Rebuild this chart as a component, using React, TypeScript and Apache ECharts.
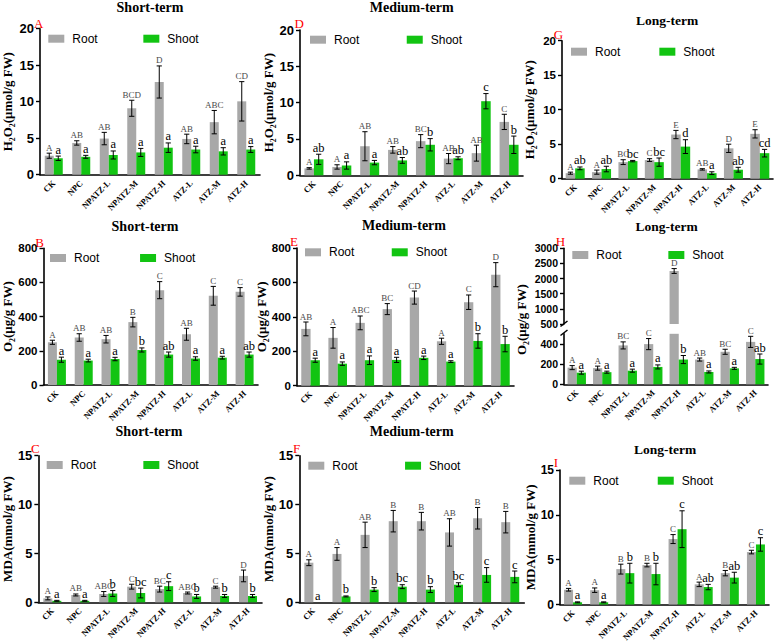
import React, { useEffect, useRef } from 'react';
import * as echarts from 'echarts';

const categories = ['CK', 'NPC', 'NPATZ-L', 'NPATZ-M', 'NPATZ-H', 'ATZ-L', 'ATZ-M', 'ATZ-H'];

// A: H2O2 short-term
const aRoot = [2.6, 4.35, 4.95, 9.1, 12.7, 4.9, 7.2, 10.05];
const aRootErr = [0.35, 0.3, 0.85, 1.1, 2.2, 0.65, 1.6, 2.7];
const aRootSig = ['A', 'AB', 'AB', 'BCD', 'D', 'AB', 'ABC', 'CD'];
const aShoot = [2.25, 2.45, 2.7, 3.05, 3.7, 3.45, 3.2, 3.45];
const aShootErr = [0.3, 0.2, 0.55, 0.55, 0.65, 0.45, 0.5, 0.4];
const aShootSig = ['a', 'a', 'a', 'a', 'a', 'a', 'a', 'a'];

// D: H2O2 medium-term
const dRoot = [0.95, 1.15, 4.0, 3.5, 4.7, 2.3, 3.05, 7.35];
const dRootErr = [0.1, 0.3, 2.0, 0.45, 0.9, 0.7, 1.1, 1.05];
const dRootSig = ['A', 'A', 'AB', 'AB', 'BC', 'AB', 'AB', 'C'];
const dShoot = [2.2, 1.35, 1.75, 2.05, 4.2, 2.35, 10.2, 4.2];
const dShootErr = [0.7, 0.5, 0.3, 0.4, 0.85, 0.2, 1.05, 1.2];
const dShootSig = ['ab', 'a', 'a', 'ab', 'b', 'ab', 'c', 'b'];

// G: H2O2 long-term
const gRoot = [0.8, 0.95, 2.4, 2.7, 6.4, 1.35, 4.4, 6.5];
const gRootErr = [0.15, 0.3, 0.35, 0.2, 0.6, 0.1, 0.6, 0.6];
const gRootSig = ['A', 'A', 'BC', 'C', 'E', 'AB', 'D', 'E'];
const gShoot = [1.5, 1.4, 2.55, 2.4, 4.65, 0.8, 1.3, 3.7];
const gShootErr = [0.2, 0.4, 0.1, 0.6, 1.0, 0.2, 0.35, 0.55];
const gShootSig = ['ab', 'ab', 'bc', 'bc', 'd', 'a', 'ab', 'cd'];

// B: O2 short-term
const bRoot = [250, 278, 268, 368, 555, 297, 522, 545];
const bRootErr = [12, 22, 22, 28, 50, 35, 55, 25];
const bRootSig = ['A', 'AB', 'AB', 'B', 'C', 'AB', 'C', 'C'];
const bShoot = [148, 143, 152, 205, 178, 155, 160, 178];
const bShootErr = [15, 8, 10, 12, 15, 10, 8, 15];
const bShootSig = ['a', 'a', 'a', 'b', 'ab', 'a', 'a', 'ab'];

// E: O2 medium-term
const eRoot = [330, 278, 365, 445, 512, 258, 485, 645];
const eRootErr = [40, 60, 40, 32, 38, 18, 42, 70];
const eRootSig = ['AB', 'A', 'ABC', 'BC', 'CD', 'A', 'C', 'D'];
const eShoot = [148, 128, 148, 150, 162, 140, 260, 242];
const eShootErr = [12, 10, 25, 15, 10, 5, 42, 45];
const eShootSig = ['a', 'a', 'a', 'a', 'a', 'a', 'b', 'b'];

// H: O2 long-term
const hRoot = [165, 160, 385, 398, 2250, 245, 322, 420];
const hRootErr = [20, 20, 35, 55, 80, 15, 25, 55];
const hRootSig = ['A', 'A', 'BC', 'C', 'D', 'AB', 'BC', 'C'];
const hShoot = [115, 120, 135, 172, 245, 122, 158, 250];
const hShootErr = [15, 10, 15, 20, 40, 10, 10, 50];
const hShootSig = ['a', 'a', 'a', 'a', 'b', 'a', 'a', 'ab'];

// C: MDA short-term
const cRoot = [0.4, 0.75, 0.85, 1.6, 1.35, 0.95, 1.55, 2.7];
const cRootErr = [0.15, 0.1, 0.25, 0.25, 0.3, 0.1, 0.1, 0.6];
const cRootSig = ['A', 'AB', 'ABC', 'C', 'BC', 'ABC', 'C', 'D'];
const cShoot = [0.15, 0.15, 0.9, 0.95, 1.65, 0.6, 0.65, 0.65];
const cShootErr = [0.05, 0.05, 0.3, 0.5, 0.45, 0.2, 0.15, 0.15];
const cShootSig = ['a', 'a', 'b', 'bc', 'c', 'b', 'b', 'b'];

// F: MDA medium-term
const fRoot = [4.05, 4.95, 6.9, 8.3, 8.3, 7.15, 8.6, 8.2];
const fRootErr = [0.3, 0.65, 1.3, 1.1, 0.9, 1.4, 1.1, 1.1];
const fRootSig = ['A', 'A', 'AB', 'B', 'B', 'AB', 'B', 'B'];
const fShoot = [0, 0.6, 1.3, 1.6, 1.3, 1.8, 2.8, 2.6];
const fShootErr = [0, 0.05, 0.2, 0.2, 0.3, 0.2, 0.75, 0.6];
const fShootSig = ['a', 'b', 'b', 'bc', 'b', 'bc', 'c', 'c'];

// I: MDA long-term
const iRoot = [1.65, 1.6, 3.95, 4.4, 7.3, 2.25, 3.5, 5.85];
const iRootErr = [0.15, 0.25, 0.55, 0.2, 0.5, 0.25, 0.3, 0.2];
const iRootSig = ['A', 'A', 'B', 'B', 'C', 'A', 'B', 'C'];
const iShoot = [0.25, 0.25, 3.5, 3.4, 8.4, 1.95, 3.0, 6.7];
const iShootErr = [0.05, 0.05, 1.1, 1.2, 2.05, 0.3, 0.6, 0.75];
const iShootSig = ['a', 'a', 'b', 'b', 'c', 'ab', 'ab', 'c'];

const H2O2_NAME = 'H₂O₂(μmol/g FW)';
const O2_NAME = 'O₂(μg/g FW)';
const MDA_NAME = 'MDA(mmol/g FW)';

const GRAY = '#A8A8A8';
const GREEN = '#12C412';
const SERIF = '"Liberation Serif", "Times New Roman", serif';
const SANS = '"Liberation Sans", Arial, sans-serif';

type Seg = { l: number; t: number; w: number; h: number; min: number; max: number; interval: number; upper?: boolean; lower?: boolean; showX: boolean };
type Panel = {
  id: string; title: string; yName: string;
  root: number[]; rootErr: number[]; rootSig: string[];
  shoot: number[]; shootErr: number[]; shootSig: string[];
  segs: Seg[]; tick: number; bw: number; nameGap: number;
  legend: [number, number, number]; titleAt: [number, number]; titleSize: number; letterAt: [number, number];
};

const panels: Panel[] = [
  { id: 'A', title: 'Short-term', yName: H2O2_NAME, root: aRoot, rootErr: aRootErr, rootSig: aRootSig, shoot: aShoot, shootErr: aShootErr, shootSig: aShootSig,
    segs: [{ l: 40, t: 28.7, w: 220, h: 146, min: 0, max: 20, interval: 5, showX: true }], tick: 13, bw: 9, nameGap: 26,
    legend: [43.3, 27.7, 45.7], titleAt: [150, 7], titleSize: 14, letterAt: [38.8, 23.3] },
  { id: 'D', title: 'Medium-term', yName: H2O2_NAME, root: dRoot, rootErr: dRootErr, rootSig: dRootSig, shoot: dShoot, shootErr: dShootErr, shootSig: dShootSig,
    segs: [{ l: 300, t: 30, w: 223, h: 145.3, min: 0, max: 20, interval: 5, showX: true }], tick: 13, bw: 9.5, nameGap: 25.5,
    legend: [305, 28.7, 47.4], titleAt: [411.7, 7], titleSize: 14, letterAt: [299.3, 23.3] },
  { id: 'G', title: 'Long-term', yName: H2O2_NAME, root: gRoot, rootErr: gRootErr, rootSig: gRootSig, shoot: gShoot, shootErr: gShootErr, shootSig: gShootSig,
    segs: [{ l: 562, t: 40.7, w: 211, h: 138, min: 0, max: 20, interval: 5, showX: true }], tick: 11.5, bw: 9.5, nameGap: 26,
    legend: [566, 40.7, 39], titleAt: [667, 20], titleSize: 13.5, letterAt: [558.5, 34.3] },
  { id: 'B', title: 'Short-term', yName: O2_NAME, root: bRoot, rootErr: bRootErr, rootSig: bRootSig, shoot: bShoot, shootErr: bShootErr, shootSig: bShootSig,
    segs: [{ l: 42, t: 248.3, w: 216, h: 136.7, min: 0, max: 800, interval: 200, showX: true }], tick: 11.5, bw: 9, nameGap: 29.5,
    legend: [45, 247, 40.7], titleAt: [145, 226], titleSize: 14, letterAt: [39.7, 242.3] },
  { id: 'E', title: 'Medium-term', yName: O2_NAME, root: eRoot, rootErr: eRootErr, rootSig: eRootSig, shoot: eShoot, shootErr: eShootErr, shootSig: eShootSig,
    segs: [{ l: 297, t: 248, w: 217, h: 137.7, min: 0, max: 800, interval: 200, showX: true }], tick: 11.5, bw: 9.3, nameGap: 28.5,
    legend: [300, 241.3, 37.4], titleAt: [404, 225], titleSize: 14, letterAt: [294, 241.7] },
  { id: 'H', title: 'Long-term', yName: '', root: hRoot, rootErr: hRootErr, rootSig: hRootSig, shoot: hShoot, shootErr: hShootErr, shootSig: hShootSig,
    segs: [
      { l: 564, t: 248.3, w: 204, h: 75.7, min: 500, max: 3000, interval: 500, upper: true, showX: false },
      { l: 564, t: 333.8, w: 204, h: 50.5, min: 0, max: 500, interval: 200, lower: true, showX: true },
    ], tick: 10.5, bw: 9.2, nameGap: 36,
    legend: [567.3, 244, 46.7], titleAt: [666.7, 226], titleSize: 13.5, letterAt: [560.5, 241.7] },
  { id: 'C', title: 'Short-term', yName: MDA_NAME, root: cRoot, rootErr: cRootErr, rootSig: cRootSig, shoot: cShoot, shootErr: cShootErr, shootSig: cShootSig,
    segs: [{ l: 38, t: 455.7, w: 224, h: 146.6, min: 0, max: 15, interval: 5, showX: true }], tick: 13, bw: 9, nameGap: 23.5,
    legend: [41.7, 454, 47.3], titleAt: [149, 431.7], titleSize: 14, letterAt: [35.3, 448.3] },
  { id: 'F', title: 'Medium-term', yName: MDA_NAME, root: fRoot, rootErr: fRootErr, rootSig: fRootSig, shoot: fShoot, shootErr: fShootErr, shootSig: fShootSig,
    segs: [{ l: 299.3, t: 455.7, w: 225, h: 146.6, min: 0, max: 15, interval: 5, showX: true }], tick: 13, bw: 9, nameGap: 22.5,
    legend: [303.3, 454.7, 47.4], titleAt: [411.7, 431.7], titleSize: 14, letterAt: [296.7, 448.3] },
  { id: 'I', title: 'Long-term', yName: MDA_NAME, root: iRoot, rootErr: iRootErr, rootSig: iRootSig, shoot: iShoot, shootErr: iShootErr, shootSig: iShootSig,
    segs: [{ l: 560, t: 470, w: 209, h: 136, min: 0, max: 15, interval: 5, showX: true }], tick: 12, bw: 9, nameGap: 16.5,
    legend: [564.3, 469.7, 39.1], titleAt: [665, 449], titleSize: 13.5, letterAt: [556, 462.7] },
];

function errSeries(gi: number, vals: number[], errs: number[], sigs: string[], side: number, bw: number, seg: Seg, isRoot: boolean) {
  return {
    type: 'custom',
    name: isRoot ? 'rootErr' : 'shootErr',
    xAxisIndex: gi,
    yAxisIndex: gi,
    z: 5,
    data: vals.map((v, i) => [i, v, errs[i]]),
    renderItem: (params: any, api: any) => {
      const i = params.dataIndex;
      const v = vals[i];
      const e = errs[i];
      if (seg.upper && v <= seg.min) return null;
      if (!seg.upper && v + e > seg.max) return null;
      const c = api.coord([i, v]);
      const x = c[0] + side * bw / 2;
      const yT = api.coord([i, v + e])[1];
      const yB = api.coord([i, v - e])[1];
      const cap = 2.6;
      const children: any[] = [];
      if (e > 0) {
        const st = { stroke: '#000', lineWidth: 1 };
        children.push({ type: 'line', shape: { x1: x, y1: yT, x2: x, y2: yB }, style: st });
        children.push({ type: 'line', shape: { x1: x - cap, y1: yT, x2: x + cap, y2: yT }, style: st });
        children.push({ type: 'line', shape: { x1: x - cap, y1: yB, x2: x + cap, y2: yB }, style: st });
      }
      children.push({
        type: 'text',
        x: x,
        y: yT - (isRoot ? 1 : 0),
        style: {
          text: sigs[i],
          align: 'center', verticalAlign: 'bottom',
          fill: isRoot ? '#4a4a4a' : '#000',
          fontSize: isRoot ? 9 : 12.5,
          fontFamily: SERIF,
        },
      });
      return { type: 'group', children };
    },
  };
}

const plainNum = (v: number) => String(v);

function buildOption() {
  const grid: any[] = [];
  const xAxis: any[] = [];
  const yAxis: any[] = [];
  const series: any[] = [];
  const legend: any[] = [];
  const graphic: any[] = [];

  panels.forEach((p) => {
    p.segs.forEach((s) => {
      const gi = grid.length;
      grid.push({ left: s.l, top: s.t, width: s.w, height: s.h });
      xAxis.push({
        type: 'category', gridIndex: gi, data: categories, show: s.showX,
        axisLine: { lineStyle: { color: '#000', width: 1.6 } },
        axisTick: { alignWithLabel: true, length: 4, lineStyle: { color: '#000', width: 1.4 } },
        axisLabel: { rotate: 45, interval: 0, fontSize: 8.5, fontWeight: 'bold', fontFamily: SERIF, color: '#000', margin: 7 },
      });
      yAxis.push({
        type: 'value', gridIndex: gi, min: s.min, max: s.max, interval: s.interval,
        splitLine: { show: false },
        axisLine: { show: true, lineStyle: { color: '#000', width: 1.6 } },
        axisTick: { show: true, length: 4, lineStyle: { color: '#000', width: 1.4 } },
        axisLabel: { fontSize: p.tick, fontWeight: 'bold', fontFamily: SANS, color: '#000', margin: 6, showMaxLabel: s.lower ? false : true, formatter: plainNum },
        name: p.yName, nameLocation: 'middle', nameGap: p.nameGap,
        nameTextStyle: { fontFamily: SERIF, fontWeight: 'bold', fontSize: 13, color: '#000' },
      });
      const barData = (arr: number[]) => arr.map((v) => (s.upper ? (v > s.min ? v : '-') : v));
      series.push({
        type: 'bar', name: 'Root', xAxisIndex: gi, yAxisIndex: gi, data: barData(p.root),
        barWidth: p.bw, barGap: '0%', itemStyle: { color: GRAY }, clip: true,
      });
      series.push({
        type: 'bar', name: 'Shoot', xAxisIndex: gi, yAxisIndex: gi, data: barData(p.shoot),
        barWidth: p.bw, barGap: '0%', itemStyle: { color: GREEN }, clip: true,
      });
      series.push(errSeries(gi, p.root, p.rootErr, p.rootSig, -1, p.bw, s, true));
      series.push(errSeries(gi, p.shoot, p.shootErr, p.shootSig, 1, p.bw, s, false));
    });

    legend.push({
      left: p.legend[0], top: p.legend[1], itemGap: p.legend[2],
      itemWidth: 16, itemHeight: 8, icon: 'rect', orient: 'horizontal',
      data: ['Root', 'Shoot'], selectedMode: false,
      textStyle: { fontSize: 12, fontFamily: SANS, color: '#000', padding: [0, 0, 0, 3] },
    });

    graphic.push({
      type: 'text', x: p.titleAt[0], y: p.titleAt[1],
      style: { text: p.title, align: 'center', verticalAlign: 'middle',
        fontSize: p.titleSize, fontWeight: 'bold', fontFamily: SERIF, fill: '#000' },
    });
    graphic.push({
      type: 'text', x: p.letterAt[0], y: p.letterAt[1],
      style: { text: p.id, align: 'center', verticalAlign: 'middle',
        fontSize: 13, fontFamily: SERIF, fill: '#FF0000' },
    });
  });

  // y-axis name of the broken-axis panel H, spanning both segments
  graphic.push({
    type: 'text', x: 515, y: 355, rotation: Math.PI / 2, z: 1000,
    style: { text: O2_NAME, fill: '#000', fontSize: 13, fontWeight: 'bold', fontFamily: SERIF },
  });
  // axis break marks
  graphic.push({ type: 'line', z: 1000, shape: { x1: 560.5, y1: 335.5, x2: 567.5, y2: 330 }, style: { stroke: '#000', lineWidth: 1.5 } });
  graphic.push({ type: 'line', z: 1000, shape: { x1: 560.5, y1: 326.5, x2: 567.5, y2: 321 }, style: { stroke: '#000', lineWidth: 1.5 } });

  return {
    animation: false,
    backgroundColor: '#fff',
    grid, xAxis, yAxis, series, legend, graphic,
  };
}

export default function App() {
  const ref = useRef<HTMLDivElement>(null);
  useEffect(() => {
    if (!ref.current) return;
    const chart = echarts.init(ref.current, undefined, { renderer: 'svg' });
    chart.setOption(buildOption() as any);
    return () => chart.dispose();
  }, []);
  return (
    <div
      ref={ref}
      style={{ position: 'fixed', left: 0, top: 0, width: 777, height: 644, background: '#fff' }}
    />
  );
}
